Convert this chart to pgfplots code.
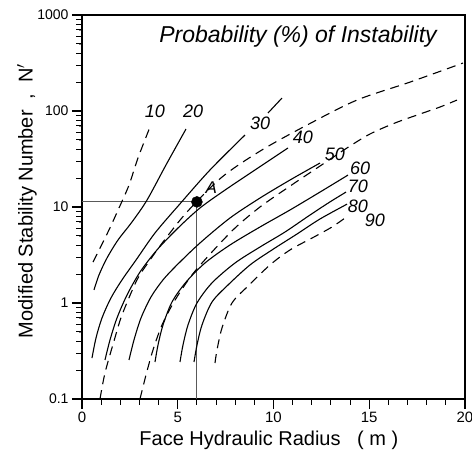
\documentclass[border=0pt]{standalone}
\usepackage{fontspec}
\setmainfont{Liberation Sans}
\usepackage{pgfplots}
\pgfplotsset{compat=1.18}
\begin{document}
\begin{tikzpicture}
\begin{axis}[
  scale only axis, width=383pt, height=384pt,
  xmin=0, xmax=20, ymin=0.1, ymax=1000, ymode=log,
  xtick={0,5,10,15,20},
  ytick={0.1,1,10,100,1000}, yticklabels={0.1,1,10,100,1000},
  tick pos=left, tick align=outside,
  major tick length=10pt,
  major tick style={draw=black, line width=1.1pt},
  axis line style={line width=1.2pt},
  unbounded coords=jump, clip=false,
  /pgf/number format/assume math mode=true,
  x tick label style={font=\fontsize{15}{17}\selectfont},
  y tick label style={font=\fontsize{14}{16}\selectfont},
  xlabel={Face Hydraulic Radius \ \ ( m )},
  ylabel={Modified Stability Number \ , \ N$'$},
  xlabel style={font=\fontsize{20}{22}\selectfont, at={(axis description cs:0.488,-0.107)}, anchor=center},
  ylabel style={font=\fontsize{20}{22}\selectfont, at={(axis description cs:-0.144,0.516)}, anchor=center},
]
% tick marks (outside)
\addplot[black, line width=1.1pt] coordinates {
(0,0.1) (-0.52,0.1) (0,nan) (0,1) (-0.52,1) (0,nan) (0,10) (-0.52,10) (0,nan) (0,100) (-0.52,100) (0,nan) (0,1000) (-0.52,1000) (0,nan)
(0,0.1) (0,0.0787) (0,nan) (5,0.1) (5,0.0787) (0,nan) (10,0.1) (10,0.0787) (0,nan) (15,0.1) (15,0.0787) (0,nan) (20,0.1) (20,0.0787)};
\addplot[black, line width=1pt] coordinates {
(0,0.2) (-0.31,0.2) (0,nan) (0,0.3) (-0.31,0.3) (0,nan) (0,0.4) (-0.31,0.4) (0,nan) (0,0.5) (-0.31,0.5) (0,nan)
(0,0.6) (-0.31,0.6) (0,nan) (0,0.7) (-0.31,0.7) (0,nan) (0,0.8) (-0.31,0.8) (0,nan) (0,0.9) (-0.31,0.9) (0,nan)
(0,2) (-0.31,2) (0,nan) (0,3) (-0.31,3) (0,nan) (0,4) (-0.31,4) (0,nan) (0,5) (-0.31,5) (0,nan)
(0,6) (-0.31,6) (0,nan) (0,7) (-0.31,7) (0,nan) (0,8) (-0.31,8) (0,nan) (0,9) (-0.31,9) (0,nan)
(0,20) (-0.31,20) (0,nan) (0,30) (-0.31,30) (0,nan) (0,40) (-0.31,40) (0,nan) (0,50) (-0.31,50) (0,nan)
(0,60) (-0.31,60) (0,nan) (0,70) (-0.31,70) (0,nan) (0,80) (-0.31,80) (0,nan) (0,90) (-0.31,90) (0,nan)
(0,200) (-0.31,200) (0,nan) (0,300) (-0.31,300) (0,nan) (0,400) (-0.31,400) (0,nan) (0,500) (-0.31,500) (0,nan)
(0,600) (-0.31,600) (0,nan) (0,700) (-0.31,700) (0,nan) (0,800) (-0.31,800) (0,nan) (0,900) (-0.31,900) (0,nan)
(1,0.1) (1,0.0866) (0,nan) (2,0.1) (2,0.0866) (0,nan) (3,0.1) (3,0.0866) (0,nan) (4,0.1) (4,0.0866) (0,nan)
(6,0.1) (6,0.0866) (0,nan) (7,0.1) (7,0.0866) (0,nan) (8,0.1) (8,0.0866) (0,nan) (9,0.1) (9,0.0866) (0,nan)
(11,0.1) (11,0.0866) (0,nan) (12,0.1) (12,0.0866) (0,nan) (13,0.1) (13,0.0866) (0,nan) (14,0.1) (14,0.0866) (0,nan)
(16,0.1) (16,0.0866) (0,nan) (17,0.1) (17,0.0866) (0,nan) (18,0.1) (18,0.0866) (0,nan) (19,0.1) (19,0.0866)};
% reference lines through A
\addplot[gray!70!black, line width=1pt] coordinates {(0,11.3) (6,11.3) (6,0.1)};
% 10 dashed
\addplot[black, line width=1.1pt, dash pattern=on 9pt off 6pt, smooth] coordinates {
(0.574,2.67) (1.358,5.49) (1.932,9.77) (2.454,16.9) (2.924,32.4) (3.551,68.1)};
% 20 solid
\addplot[black, line width=1.1pt, smooth] coordinates {
(0.627,1.37) (0.888,1.96) (1.305,2.94) (1.880,4.53) (2.611,6.98) (3.394,11.8) (4.386,27.4) (5.431,64.9)};
% 30 solid
\addplot[black, line width=1.1pt, smooth] coordinates {
(0.522,0.267) (0.731,0.432) (1.044,0.698) (1.514,1.13) (2.089,1.74) (2.820,2.80) (3.812,5.36) (5.065,10.5) (6.684,24.3) (8.512,56.2)};
\addplot[black, line width=1.1pt] coordinates {(9.713,95.3) (10.444,136.5)};
% 40 solid
\addplot[black, line width=1.1pt, smooth] coordinates {
(1.201,0.255) (1.462,0.412) (1.828,0.698) (2.350,1.21) (3.029,2.10) (3.916,3.57) (5.013,6.04) (6.162,9.77) (7.467,15.0) (9.034,24.3) (10.757,41.2)};
% long dashed A
\addplot[black, line width=1.1pt, dash pattern=on 9pt off 6pt, smooth] coordinates {
(0.940,0.1) (1.201,0.187) (1.671,0.402) (2.089,0.750) (2.872,1.74) (3.551,2.80) (4.230,4.32) (5.483,8.87) (7.311,20.5) (9.399,39.3) (11.854,73.2) (14.360,130) (17.128,200) (19.896,316)};
% 50 solid
\addplot[black, line width=1.1pt, smooth] coordinates {
(2.454,0.255) (2.715,0.412) (3.081,0.698) (3.603,1.155) (4.230,1.74) (4.961,2.49) (6.162,4.22) (7.728,7.68) (9.295,12.4) (10.862,19.1) (12.428,28.7)};
% long dashed B
\addplot[black, line width=1.1pt, dash pattern=on 9pt off 6pt, smooth] coordinates {
(3.029,0.1) (3.342,0.178) (3.708,0.324) (4.178,0.590) (4.856,1.07) (5.744,1.96) (6.789,3.40) (7.990,6.04) (9.295,10.0) (10.862,16.5) (12.428,26.7) (13.838,41.2) (15.039,57.6) (16.345,75.0) (17.650,93.0) (18.695,110) (19.582,130)};
% 60 solid
\addplot[black, line width=1.1pt, smooth] coordinates {
(3.812,0.243) (3.969,0.365) (4.230,0.590) (4.700,1.024) (5.431,1.65) (6.423,2.61) (7.728,4.02) (9.295,6.19) (10.862,9.31) (12.428,14.3) (13.890,21.5)};
% 70 solid
\addplot[black, line width=1.1pt, smooth] coordinates {
(5.117,0.243) (5.274,0.365) (5.535,0.590) (6.005,1.0) (6.789,1.62) (7.990,2.61) (9.295,3.83) (10.601,5.49) (11.906,8.25) (12.950,11.3) (13.786,14.3)};
% 80 solid
\addplot[black, line width=1.1pt, smooth] coordinates {
(5.849,0.243) (6.005,0.365) (6.266,0.590) (6.789,1.024) (7.624,1.54) (8.773,2.49) (9.922,3.57) (11.227,5.23) (12.428,7.50) (13.838,10.7)};
% 90 dashed
\addplot[black, line width=1.1pt, dash pattern=on 9pt off 6pt, smooth] coordinates {
(6.945,0.237) (7.050,0.324) (7.311,0.55) (7.833,1.0) (8.668,1.50) (9.817,2.49) (10.862,3.57) (12.115,4.87) (13.055,6.19) (13.734,7.68)};
% point A
\addplot[black, only marks, mark=*, mark size=5.5pt] coordinates {(6,11.3)};
% labels
\begin{scope}[every node/.style={font=\fontsize{18}{20}\selectfont\itshape, inner sep=0pt}]
\node at (axis cs:3.81,100) {10};
\node at (axis cs:5.8,100) {20};
\node at (axis cs:9.3,75) {30};
\node at (axis cs:11.54,53.6) {40};
\node at (axis cs:13.21,35.6) {50};
\node at (axis cs:14.52,25.5) {60};
\node at (axis cs:14.41,16.4) {70};
\node at (axis cs:14.41,10.2) {80};
\node at (axis cs:15.3,7.3) {90};
\node[font=\fontsize{17}{19}\selectfont\itshape] at (axis cs:6.75,15.8) {A};
\node[font=\fontsize{23}{25}\selectfont\itshape] at (rel axis cs:0.564,0.943) {Probability (\%) of Instability};
\end{scope}
\end{axis}
\pgfresetboundingbox
\path ([xshift=-82pt,yshift=-62pt]current axis.south west) rectangle ([xshift=7pt,yshift=15pt]current axis.north east);
\end{tikzpicture}
\end{document}
